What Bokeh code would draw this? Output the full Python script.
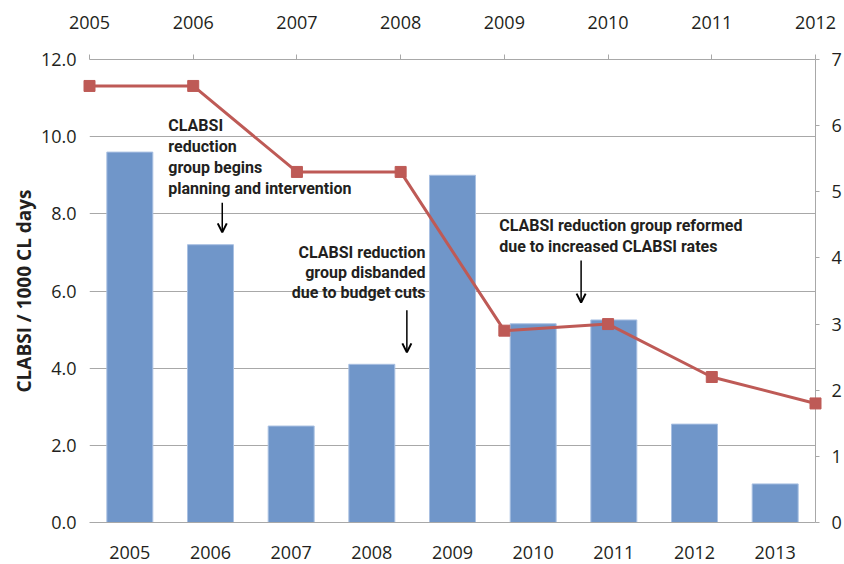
from bokeh.plotting import figure
from bokeh.models import (Range1d, LinearAxis, NumeralTickFormatter,
                          FixedTicker, Label, Arrow, OpenHead, ColumnDataSource)
from bokeh.embed import file_html
from bokeh.resources import INLINE

# ---- data ----
bar_years = ["2005", "2006", "2007", "2008", "2009", "2010", "2011", "2012", "2013"]
bar_values = [9.6, 7.2, 2.5, 4.1, 9.0, 5.15, 5.25, 2.55, 1.0]
line_years = [2005, 2006, 2007, 2008, 2009, 2010, 2011, 2012]
line_values = [6.6, 6.6, 5.3, 5.3, 2.9, 3.0, 2.2, 1.8]
left_ticks = [0, 2, 4, 6, 8, 10, 12]
right_ticks = [0, 1, 2, 3, 4, 5, 6, 7]
top_ticks = line_years

TXT = "#231F20"
GRID = "#A8A8A8"
BAR = "#7096C9"
RED = "#BE5A56"
TICK_FONT = "Open Sans"
NOTE_FONT = "Roboto"

# category slots: bar i sits in the middle of slot i
bar_pos = [i + 0.5 for i in range(len(bar_years))]

p = figure(width=844, height=564,
           x_range=Range1d(0, len(bar_years)), y_range=Range1d(0, 12),
           output_backend="svg", toolbar_location=None,
           min_border_left=89, min_border_top=59, min_border_right=26, min_border_bottom=42)
p.extra_x_ranges = {"top": Range1d(2005, 2012)}
p.extra_y_ranges = {"right": Range1d(0, 7)}
p.outline_line_color = None
p.background_fill_color = "white"

# grid
p.xgrid.grid_line_color = None
p.ygrid.ticker = FixedTicker(ticks=left_ticks)
p.ygrid.grid_line_color = GRID
p.ygrid.grid_line_width = 1

# bars
src = ColumnDataSource(dict(x=bar_pos, val=bar_values))
p.vbar(x="x", top="val", width=0.57, source=src,
       fill_color=BAR, line_color="#A9C0E2", line_width=1)

# line series on top/right axes
p.line(x=line_years, y=line_values, x_range_name="top", y_range_name="right",
       line_color=RED, line_width=3, level="overlay")
p.scatter(x=line_years, y=line_values, x_range_name="top", y_range_name="right",
          marker="square", size=11, fill_color=RED, line_color=RED, level="overlay")

# bottom axis
xa = p.xaxis[0]
xa.ticker = FixedTicker(ticks=bar_pos)
xa.major_label_overrides = {pos: lab for pos, lab in zip(bar_pos, bar_years)}
xa.axis_line_color = GRID
xa.major_tick_line_color = None
xa.minor_tick_line_color = None
xa.major_label_standoff = 17
xa.major_label_text_font = TICK_FONT
xa.major_label_text_font_size = "18px"
xa.major_label_text_color = TXT

# left axis
ya = p.yaxis[0]
ya.ticker = FixedTicker(ticks=left_ticks)
ya.formatter = NumeralTickFormatter(format="0.0")
ya.axis_line_color = None
ya.major_tick_line_color = None
ya.minor_tick_line_color = None
ya.major_label_standoff = 7
ya.major_label_text_font = TICK_FONT
ya.major_label_text_font_size = "18px"
ya.major_label_text_color = TXT
ya.axis_label = "CLABSI / 1000 CL days"
ya.axis_label_text_font = TICK_FONT
ya.axis_label_text_font_style = "bold"
ya.axis_label_text_font_size = "19px"
ya.axis_label_text_color = TXT
ya.axis_label_standoff = 1

# top axis
top = LinearAxis(x_range_name="top", ticker=FixedTicker(ticks=top_ticks))
top.axis_line_color = GRID
top.major_tick_line_color = GRID
top.major_tick_out = 5
top.major_tick_in = 0
top.minor_tick_line_color = None
top.major_label_standoff = 26
top.major_label_text_font = TICK_FONT
top.major_label_text_font_size = "18px"
top.major_label_text_color = TXT
p.add_layout(top, "above")

# right axis
right = LinearAxis(y_range_name="right", ticker=FixedTicker(ticks=right_ticks))
right.axis_line_color = GRID
right.major_tick_line_color = GRID
right.major_tick_out = 4
right.major_tick_in = 0
right.minor_tick_line_color = None
right.major_label_standoff = 12
right.major_label_text_font = TICK_FONT
right.major_label_text_font_size = "18px"
right.major_label_text_color = TXT
p.add_layout(right, "right")

# annotations
def note(lines, x, ys, align):
    for t, y in zip(lines, ys):
        p.add_layout(Label(x=x, y=y, x_range_name="top", text=t,
                           text_font=NOTE_FONT, text_font_style="bold",
                           text_font_size="16px", text_color=TXT,
                           text_align=align, text_baseline="middle"))

note(["CLABSI", "reduction", "group begins", "planning and intervention"],
     2005.76, [10.28, 9.74, 9.19, 8.65], "left")
note(["CLABSI reduction", "group disbanded", "due to budget cuts"],
     2008.24, [7.00, 6.48, 5.96], "right")
note(["CLABSI reduction group reformed", "due to increased CLABSI rates"],
     2008.95, [7.70, 7.15], "left")

for xs, y0, y1 in [(2006.28, 8.29, 7.52), (2008.06, 5.50, 4.41), (2009.74, 6.79, 5.70)]:
    p.add_layout(Arrow(x_start=xs, y_start=y0, x_end=xs, y_end=y1, x_range_name="top",
                       line_color="black", line_width=1.5,
                       end=OpenHead(size=9, line_width=2, line_color="black")))

open("out.html", "w").write(file_html(p, INLINE))
